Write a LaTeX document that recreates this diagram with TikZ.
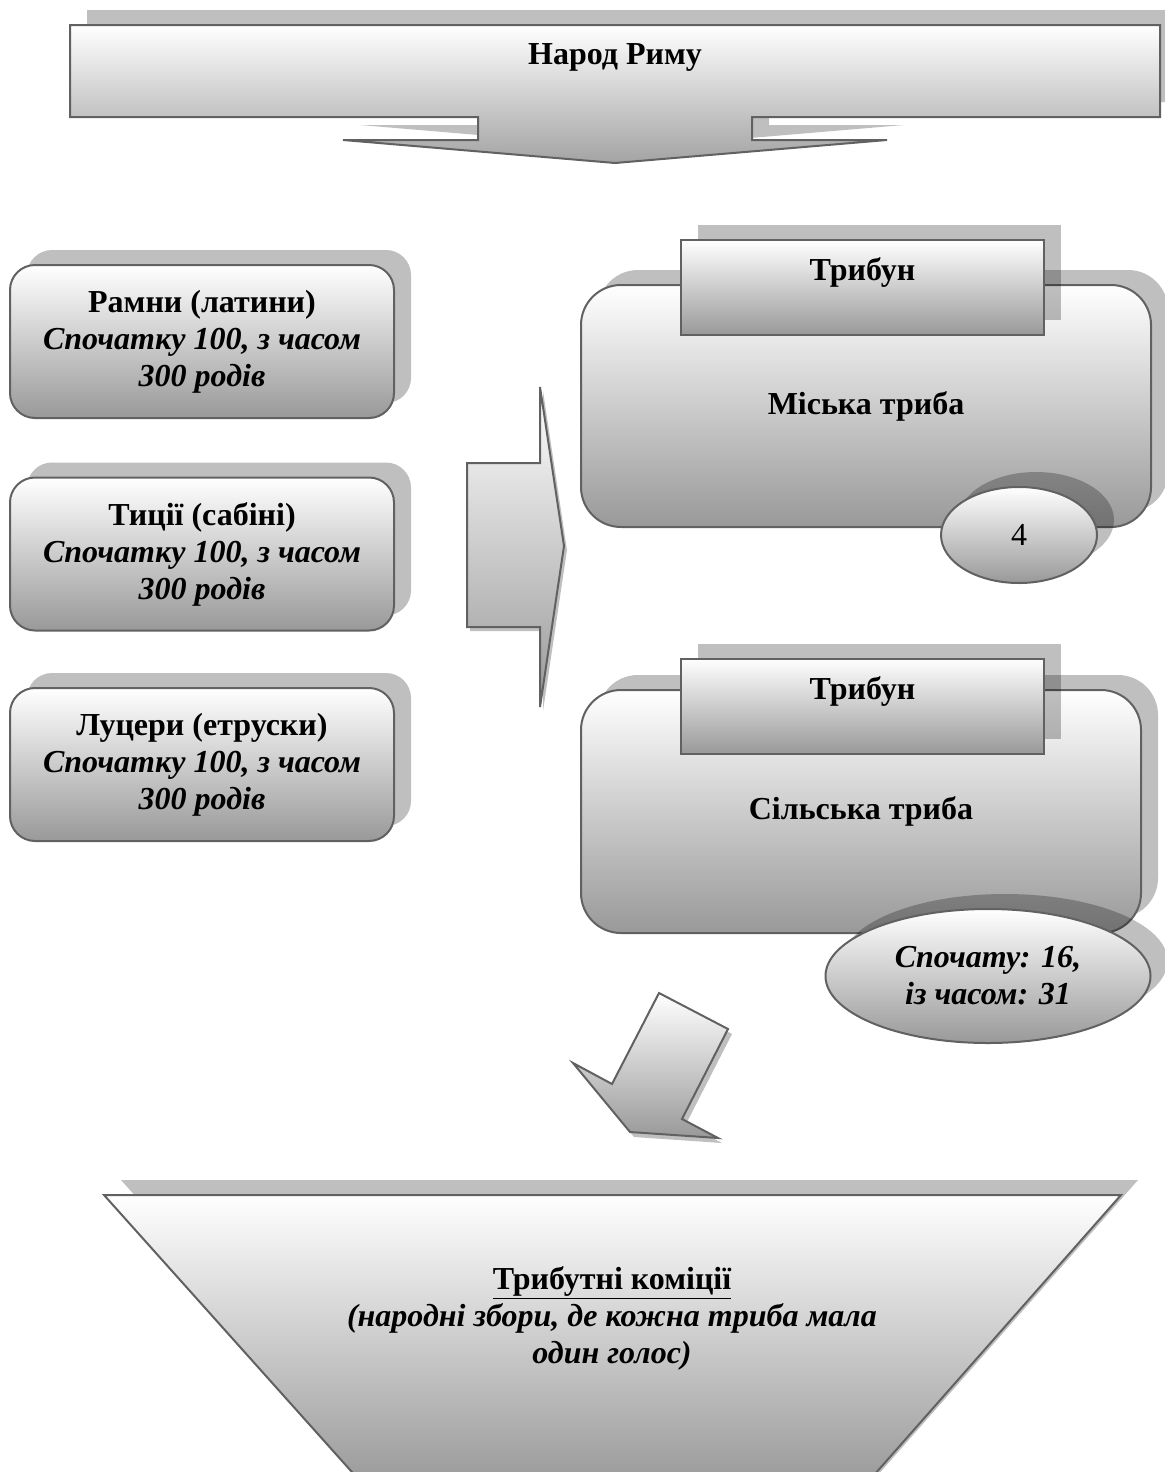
\documentclass[tikz,border=0pt]{standalone}
\usepackage{fontspec}
\setmainfont{Liberation Serif}
\usetikzlibrary{shapes.geometric}

\tikzset{
  castshadow/.style={preaction={fill=black, opacity=0.25, transform canvas={shift={#1}}}},
  castshadow/.default={(17,-15)},
  shadebox/.style={draw=black!62, line width=1pt, top color=white, bottom color=black!40},
  txt/.style={font={\fontsize{16}{18.5}\selectfont\bfseries}, align=center},
  genbox/.style={shadebox, castshadow, txt, rounded corners=12.5pt,
    minimum width=192pt, minimum height=76.5pt, inner sep=0pt},
  tribebox/.style={shadebox, castshadow, txt, rounded corners=20pt, minimum height=121pt},
  tribunbox/.style={shadebox, castshadow, minimum width=181.5pt, minimum height=47.5pt},
  countoval/.style={shadebox, castshadow, txt, ellipse, inner sep=0pt},
}

\begin{document}
\begin{tikzpicture}[x=0.5pt, y=-0.5pt]
\useasboundingbox (0,0) rectangle (1165,1472);
\clip (0,0) rectangle (1165,1472);

% Народ Риму: banner with arrow down
\path[shadebox, bottom color=black!36, castshadow]
  (70,25) -- (1160,25) -- (1160,117) -- (752,117) -- (752,140) -- (887,140)
  -- (615,163) -- (343,140) -- (478,140) -- (478,117) -- (70,117) -- cycle;
\node[txt] (people) at (615,57) {Народ Риму};

% three old tribes
\node[genbox] (ramnes) at (202,341.5)
  {Рамни (латини)\\\textit{Спочатку 100, з часом}\\\textit{300 родів}};
\node[genbox] (tities) at (202,554)
  {Тиції (сабіні)\\\textit{Спочатку 100, з часом}\\\textit{300 родів}};
\node[genbox] (luceres) at (202,764.5)
  {Луцери (етруски)\\\textit{Спочатку 100, з часом}\\\textit{300 родів}};

% arrow to the new tribes
\path[shadebox, castshadow={(3,4)}]
  (467,463) -- (540,463) -- (540,387) -- (564,546) -- (540,707)
  -- (540,627) -- (467,627) -- cycle;

% urban tribe
\node[tribebox, minimum width=285pt] (urban) at (866,406) {Міська триба};
\node[tribunbox] (tribun1) at (862.5,287.5) {};
\node[txt, yshift=7.5pt] (tribun1txt) at (tribun1) {Трибун};
\node[countoval, font={\fontsize{16}{18.5}\selectfont},
  minimum width=78pt, minimum height=48pt] (urbannum) at (1019,535) {4};

% rural tribe
\node[tribebox, minimum width=280pt, minimum height=121.5pt] (rural) at (861,811.5)
  {Сільська триба};
\node[tribunbox] (tribun2) at (862.5,706) {};
\node[txt, yshift=7.5pt] (tribun2txt) at (tribun2) {Трибун};
\node[countoval, minimum width=162.5pt, minimum height=67pt] (ruralnum) at (988,976)
  {\textit{Спочату: 16,}\\\textit{із часом: 31}};

% arrow down to the comitia
\path[shadebox, castshadow={(4,5)}]
  (659,993) -- (728,1029) -- (682,1119) -- (718,1138) -- (630,1132)
  -- (573,1063) -- (612,1084) -- cycle;

% Трибутні коміції
\path[shadebox, bottom color=black!42, castshadow]
  (104,1195) -- (1121,1195) -- (852,1500) -- (377,1500) -- cycle;
\node[txt] (comitia) at (612,1318)
  {\underline{Трибутні коміції}\\\textit{(народні збори, де кожна триба мала}\\\textit{один голос)}};

\end{tikzpicture}
\end{document}
